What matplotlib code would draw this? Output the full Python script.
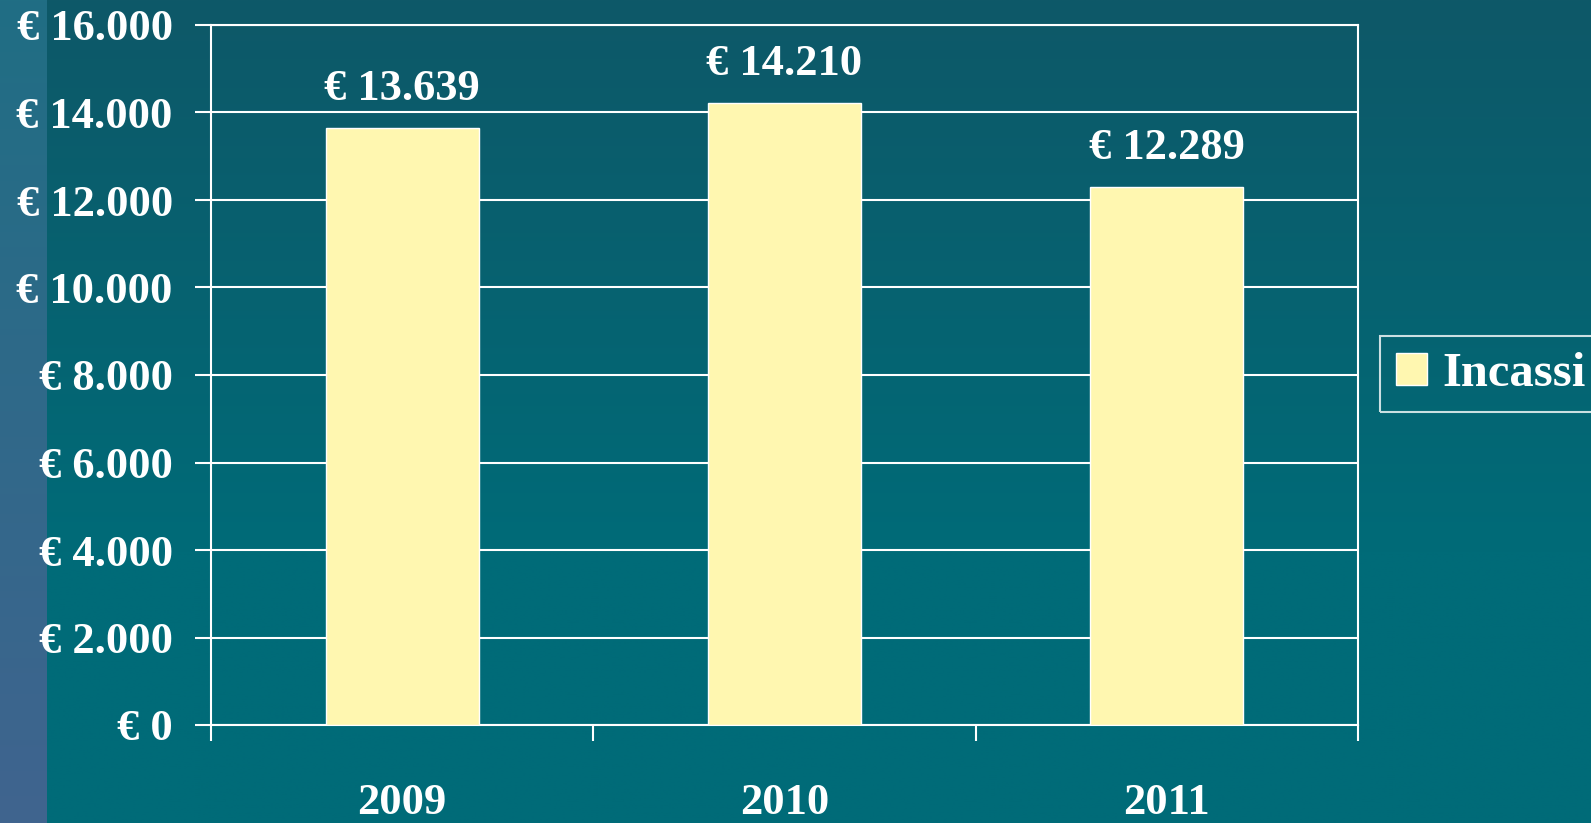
import numpy as np
import matplotlib
matplotlib.use("Agg")
import matplotlib.pyplot as plt

# Dati
anni = ["2009", "2010", "2011"]
incassi = [13639, 14210, 12289]
y_ticks = [0, 2000, 4000, 6000, 8000, 10000, 12000, 14000, 16000]

def euro(v):
    return "€ " + f"{v:,}".replace(",", ".")

plt.rcParams["font.family"] = ["Liberation Serif", "DejaVu Serif"]
plt.rcParams["font.weight"] = "bold"

W, H = 1591, 823
fig = plt.figure(figsize=(W / 100, H / 100), dpi=100)

# Sfondo con gradiente e striscia a sinistra
bg = fig.add_axes([0, 0, 1, 1], zorder=-10)
bg.axis("off")
t = np.clip(np.linspace(0, 1, 400) / 0.67, 0, 1)[:, None]
top = np.array([14, 88, 104]) / 255
bot = np.array([0, 107, 120]) / 255
img = np.repeat(top + (bot - top) * t[..., None], 4, axis=1)
ts = np.linspace(0, 1, 400)[:, None]
strip_top = np.array([32, 110, 132]) / 255
strip_bot = np.array([64, 100, 143]) / 255
strip = np.repeat(strip_top + (strip_bot - strip_top) * ts[..., None], 2, axis=1)
bg.imshow(img, extent=[0, 1, 0, 1], aspect="auto")
bg.imshow(strip, extent=[0, 47 / W, 0, 1], aspect="auto")
bg.set_xlim(0, 1)
bg.set_ylim(0, 1)

ax = fig.add_axes([211 / W, 1 - 725 / H, (1358 - 211) / W, (725 - 25) / H])
ax.set_facecolor("none")

x = np.arange(len(anni))
ax.bar(x, incassi, width=0.4, color="#FFF7B0", edgecolor="white",
       linewidth=1, zorder=3, label="Incassi")

for xi, v in zip(x, incassi):
    ax.annotate(euro(v), (xi, v), xytext=(0, 14), textcoords="offset points",
                ha="center", va="bottom", color="white", fontsize=32,
                fontweight="bold")

ax.set_ylim(0, 16000)
ax.set_yticks(y_ticks)
ax.set_yticklabels([euro(v) for v in y_ticks])
ax.set_xlim(-0.5, 2.5)
ax.set_xticks(x)
ax.set_xticklabels(anni)
ax.set_xticks([-0.5, 0.5, 1.5, 2.5], minor=True)

ax.grid(axis="y", color="white", linewidth=1.5, zorder=0)
ax.set_axisbelow(True)
for s in ax.spines.values():
    s.set_color("white")
    s.set_linewidth(1.5)

ax.tick_params(axis="y", colors="white", labelsize=32, length=11.5, width=1.5,
               direction="out", pad=16)
ax.tick_params(axis="x", which="major", length=0, colors="white",
               labelsize=32, pad=42)
ax.tick_params(axis="x", which="minor", length=11.5, width=1.5,
               color="white", direction="out")

leg = fig.legend(loc="center left", bbox_to_anchor=(1380 / W, 1 - 374 / H),
                 fontsize=35, frameon=True, fancybox=False, borderaxespad=0,
                 handlelength=0.64, handleheight=0.64, handletextpad=0.31,
                 borderpad=0.33)
leg.get_frame().set_facecolor("none")
leg.get_frame().set_edgecolor("white")
leg.get_frame().set_linewidth(1.5)
for txt in leg.get_texts():
    txt.set_color("white")

fig.savefig("out.png", dpi=100)
